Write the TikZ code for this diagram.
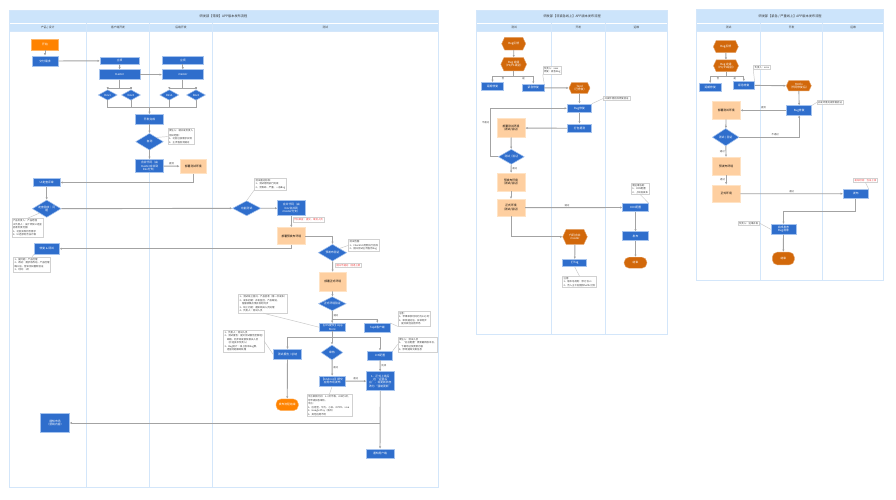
\documentclass[tikz,border=0pt]{standalone}
\usepackage{fontspec}
\setmainfont{Noto Sans CJK SC}
\usetikzlibrary{shapes.geometric,shapes.symbols,arrows.meta}

\definecolor{laneline}{HTML}{D3E6FA}
\definecolor{headfill}{HTML}{CCE4FB}
\definecolor{taskblue}{HTML}{2F6ECC}
\definecolor{taskedge}{HTML}{A5C3EE}
\definecolor{envfill}{HTML}{FECFA0}
\definecolor{envedge}{HTML}{FFE3C5}
\definecolor{startorange}{HTML}{FF8300}
\definecolor{hexorange}{HTML}{D2680A}
\definecolor{flowgray}{HTML}{A3A3A3}
\definecolor{notered}{HTML}{F03C3C}

\tikzset{
  boxfont/.style={font=\fontsize{2.8}{3.4}\selectfont},
  memofont/.style={font=\fontsize{2.4}{3.5}\selectfont},
  wh/.style 2 args={minimum width=#1pt, minimum height=#2pt},
  task/.style={rectangle, boxfont, fill=taskblue, draw=taskedge, line width=0.5pt,
    text=white, align=center, inner sep=0.5pt},
  envbox/.style={rectangle, boxfont, fill=envfill, draw=envedge, line width=0.7pt,
    align=center, inner sep=0.5pt},
  check/.style={diamond, aspect=1.7, boxfont, fill=taskblue, draw=taskedge,
    line width=0.5pt, text=white, align=center, inner sep=0pt},
  startbox/.style={rectangle, boxfont, fill=startorange, draw=startorange!60,
    text=white, inner sep=0.5pt},
  hexbox/.style={signal, signal to=east and west, signal pointer angle=130,
    boxfont, fill=hexorange, draw=hexorange!60, text=white, align=center, inner sep=0.3pt},
  endbox/.style={rectangle, rounded corners=5pt, boxfont, fill=hexorange,
    draw=hexorange!60, text=white, inner sep=0.5pt},
  memo/.style={rectangle, memofont, draw=black!18, fill=white, align=left,
    text=black!75, inner sep=1.1pt, anchor=north west},
  redmemo/.style={memo, text=notered},
  flow/.style={draw=flowgray, line width=0.9pt, -{Latex[length=2.4pt,width=2.2pt]}},
  joint/.style={draw=flowgray, line width=0.9pt},
  link/.style={draw=black!22, line width=0.45pt},
  lbl/.style={memofont, text=black!70, inner sep=0.8pt},
  lane/.style={draw=laneline, line width=0.9pt},
  headtext/.style={boxfont, text=black!75},
  titletext/.style={font=\fontsize{3.2}{3.8}\selectfont, text=black!80},
}

\begin{document}
\begin{tikzpicture}[x=1pt, y=-1pt]
\useasboundingbox (0,0) rectangle (896,500);
\fill[white] (0,0) rectangle (896,500);

% ---------- regular release ----------
\fill[headfill] (9,10) rectangle (438,31.7);
\draw[white, line width=0.8pt] (9,23.3) -- (438,23.3);
\draw[lane] (9,10) rectangle (438,487.7);
\draw[lane] (9,31.7) -- (438,31.7);
\foreach \x in {86.7,149.3,212.7} \draw[lane] (\x,23.3) -- (\x,487.7);
\node[titletext] (ltitle) at (223.5,16.7) {研发部【常规】APP版本发布流程};
\node[headtext] (lhead1) at (47.8,27.5) {产品 | 设计};
\node[headtext] (lhead2) at (118,27.5) {客户端开发};
\node[headtext] (lhead3) at (181,27.5) {后端开发};
\node[headtext] (lhead4) at (325.3,27.5) {测试};

\node[startbox, wh={27}{10.7}] (start) at (45,44.7) {开始};
\node[task, wh={26}{10.3}] (req) at (45,61) {交付需求};
\node[task, wh={39}{7.2}] (cliplan) at (119.7,60.8) {立项};
\node[task, wh={41}{9.7}] (climaster) at (119.5,74.6) {master};
\node[task, wh={41}{7.5}] (srvplan) at (182.8,60.5) {立项};
\node[task, wh={41}{9.7}] (srvmaster) at (182.8,74.6) {master};
\node[check, wh={19}{10.5}] (clidev1) at (107.7,95) {Dev1};
\node[check, wh={19}{10.5}] (clidev2) at (131,95) {Dev2};
\node[check, wh={19}{10.5}] (srvdev1) at (169.3,95) {Dev1};
\node[check, wh={19}{10.5}] (srvdev2) at (196,95) {Dev2};
\coordinate (devjoin) at (149.5,107.3);
\node[task, wh={27.6}{9.7}] (devdone) at (149.5,119.2) {开发完成};
\node[check, wh={27.7}{16.7}] (selftest) at (149.5,141.7) {自测};
\node[memo] (selfmemo) at (167.7,128.3) {责任人：端开发负责人\\[1.2pt]测试范围：\\1、功能已按需求实现\\2、主流程自测通过};
\node[task, wh={27.6}{13.4}] (mergedev) at (149.5,166) {合并代码（由\\master合并到\\Dev分支）};
\node[envbox, wh={26.7}{14}] (testenv) at (193.3,166.3) {部署测试环境};
\node[task, wh={26.7}{8.4}] (review) at (46.7,182.5) {UI走查评审};
\node[check, wh={28.7}{17.3}] (uicheck) at (46.7,208.7) {走查验收｜问\\题};
\node[memo] (uimemo) at (11.7,218.3) {产品负责人：产品经理\\UI负责人：设计师及UI走查\\验收负责范围：\\1、功能实现符合需求\\2、UI还原符合设计稿};
\node[task, wh={25}{10.7}] (fix) at (46.8,248.7) {修复 \& 调试};
\node[memo] (fixmemo) at (13.3,256.7) {1、提问题：产品经理\\2、改动：需求有改动，产品经理\\确认后，告知测试重新验证\\3、时间：1天};
\node[task, wh={28.6}{19}] (market) at (55,423) {通知市场\\（营销内容）};

\node[check, wh={28.4}{15}] (funccheck) at (246.7,208.3) {功能测试};
\node[memo] (funcmemo) at (254.3,177.7) {测试通过标准：\\1、测试用例执行完成\\2、无致命、严重、一般Bug};
\node[task, wh={27.3}{15}] (mergemaster) at (291.3,208.2) {合并代码（由\\Dev合并到\\master分支）};
\node[redmemo] (mergememo) at (292.7,217.3) {代码审查：提交，审批人员};
\node[envbox, wh={27.3}{16.6}] (preenv) at (291.3,236) {部署预发布环境};
\node[check, wh={28.4}{16.7}] (precheck) at (332.5,252.7) {预发布验证};
\node[memo] (prememo) at (348.3,239.3) {测试范围：\\1、Checklist用例执行完成\\2、回归测试主流程无Bug};
\node[redmemo] (prered) at (335,262.7) {回归不通过：回退上版};
\node[envbox, wh={26.7}{18.7}] (prodenv) at (332.7,281.7) {部署正式环境};
\node[check, wh={27.7}{14}] (prodcheck) at (332.3,303.7) {正式环境验证};
\node[memo] (prodmemo) at (238.3,294.3) {1、测试线上回归，产品验收（第一次发布）\\2、发布初期：开发监控，产品跟进，\\\quad 客服收集反馈并及时同步\\3、线上问题：通知相关人员处理\\4、负责人：测试人员};
\node[task, wh={25.7}{7.7}] (iosapp) at (332.2,327.2) {【iOS提交】App\\Store};
\node[task, wh={25.7}{9}] (tapd) at (377.3,327.8) {Tapd客户端};
\node[memo] (tapdmemo) at (397.7,311) {注意：\\1、苹果审核时间约为24小时\\2、审核通过后，安卓同步\\\quad 提交其他应用市场};
\node[task, wh={28.4}{9.7}] (report) at (287.5,354.2) {测试报告 / 总结};
\node[memo] (reportmemo) at (223.3,330) {1、负责人：测试人员\\2、测试报告：提交测试报告至群组/\\\quad 邮箱，同步研发部及相关人员\\\quad （抄送技术负责人）\\3、Bug统计：线上版本Bug数，\\\quad 遗留问题跟踪处理};
\node[check, wh={21.7}{15}] (audit) at (332,352.5) {审核};
\node[task, wh={25}{9}] (iosconf) at (380,355.5) {iOS配置};
\node[memo] (confmemo) at (397.7,336.7) {责任人：测试人员\\1、“后台配置”更新最新版本号，\\\quad 下载地址及更新内容\\2、修改通知文案信息};
\node[startbox, rounded corners=5pt, wh={22.3}{11.7}] (finish) at (287.2,404.8) {发布流程结束};
\node[task, wh={25.7}{9.7}] (android) at (332.2,381) {【Android】提交\\应用市场发布};
\node[memo] (androidmemo) at (306.7,394.3) {平台审核时间：1--3天不等，iOS约1天，\\可申请加急审核。\\平台：\\1、应用宝、华为、小米、OPPO、vivo\\2、Google Play（海外）\\3、其他应用市场};
\node[task, wh={27.3}{19}] (online) at (380.3,381.2) {1、正式上线后\\在“运营后\\台”，将更新状态\\改为“强制更新”};
\node[task, wh={28}{9.3}] (notify) at (380,453.7) {通知用户端};

\draw[flow] (start) -- (req);
\draw[flow] (req) -- (cliplan);
\draw[flow] (cliplan) -- (climaster);
\draw[flow] (srvplan) -- (srvmaster);
\draw[flow] (climaster) -- (srvmaster);
\foreach \d in {clidev1,clidev2} \draw[flow] (climaster.south) -- ++(0,8.5) -| (\d.north);
\foreach \d in {srvdev1,srvdev2} \draw[flow] (srvmaster.south) -- ++(0,8.5) -| (\d.north);
\foreach \d in {clidev1,clidev2,srvdev1,srvdev2} \draw[joint] (\d.south) |- (devjoin);
\draw[flow] (devjoin) -- (devdone);
\draw[flow] (devdone) -- (selftest);
\draw[flow] (selftest) -- (mergedev);
\draw[flow] (mergedev) -- node[lbl, above] {提测} (testenv);
\draw[flow] (testenv.south) |- (review.east);
\draw[flow] (review) -- (uicheck);
\draw[flow] (uicheck) -- (funccheck);
\draw[flow] (funccheck) -- (mergemaster);
\draw[flow] (mergemaster) -- (preenv);
\draw[flow] (preenv.south) |- (fix.east);
\draw[flow] (preenv.east) -| (precheck.north);
\draw[flow] (precheck) -- (prodenv);
\draw[flow] (prodenv) -- (prodcheck);
\draw[flow] (prodcheck) -- node[lbl, right, pos=0.35] {通过} (iosapp);
\draw[flow] (prodcheck.south) -- ++(0,8.3) -| (tapd.north);
\foreach \d in {report,audit,iosconf} \draw[flow] (iosapp.south) -- ++(0,6.5) -| (\d.north);
\draw[flow] (report) -- (finish);
\draw[flow] (audit) -- node[lbl, right] {通过} (android);
\draw[flow] (android) -- node[lbl, above] {通过} (online);
\draw[flow] (iosconf) -- node[lbl, right] {完成} (online);
\draw[flow] (online) -- (notify);
\draw[flow] (online.south |- market.east) -- (market.east);

\draw[link] (selfmemo.west) -- (selftest.north east);
\draw[link] (uimemo.north) -- (uicheck.south west);
\draw[link] (fixmemo.north) -- (fix.south west);
\draw[link] (funcmemo.south west) -- (funccheck.north);
\draw[link] (prememo.west) -- (precheck.north east);
\draw[link] (prodmemo.south) -- (iosapp.west);
\draw[link] (tapdmemo.south west) -- (tapd.north east);
\draw[link] (reportmemo.east) -- (report.west);
\draw[link] (confmemo.west) -- (iosconf.north east);
\draw[link] (androidmemo.north) -- (android.south);

% ---------- non-urgent fix ----------
\fill[headfill] (476.7,10) rectangle (667.5,31.7);
\draw[white, line width=0.8pt] (476.7,23.3) -- (667.5,23.3);
\draw[lane] (476.7,10) rectangle (667.5,334.3);
\draw[lane] (476.7,31.7) -- (667.5,31.7);
\foreach \x in {551.7,605} \draw[lane] (\x,23.3) -- (\x,334.3);
\node[titletext] (mtitle) at (572.1,16.7) {研发部【非紧急线上】APP版本发布流程};
\node[headtext] (mhead1) at (514.2,27.5) {测试};
\node[headtext] (mhead2) at (578.3,27.5) {开发};
\node[headtext] (mhead3) at (636.3,27.5) {运维};

\node[hexbox, wh={24}{12.7}] (mbug) at (513.7,43.7) {Bug反馈};
\node[hexbox, wh={22.7}{13.3}] (mgrade) at (513.7,64.3) {Bug 定级\\（P0/P1级别）};
\node[task, wh={21.6}{7.7}] (mdelay) at (492.5,86.2) {延期修复};
\node[task, wh={21.3}{7.7}] (mfix) at (533.3,87.8) {紧急修复};
\node[memo] (mfixmemo) at (542.7,66) {负责人：xxxx\\修复：紧急Bug};
\node[hexbox, wh={21}{10.7}] (mtapd) at (579.5,88) {Tapd\\（已修复）};
\node[task, wh={24.4}{8.7}] (mbugfix) at (579.5,108.3) {Bug修复};
\node[memo] (mbugmemo) at (603.3,96) {开发环境完成修复验证};
\node[task, wh={24.4}{8.7}] (mpack) at (579.5,128.3) {打包提测};
\node[envbox, wh={27.7}{18.3}] (mtestenv) at (511,128) {部署测试环境\\（测试/验证）};
\node[check, wh={26}{15}] (mtestchk) at (511.3,156.8) {测试 / 验证};
\node[envbox, wh={27.7}{17.7}] (mpreenv) at (511,182.2) {预发布环境\\（测试/验证）};
\node[envbox, wh={27.7}{16.7}] (mprodenv) at (511,207.7) {正式环境\\（测试/验证）};
\node[task, wh={25.6}{8.4}] (mcdn) at (635.5,207.5) {CDN配置};
\node[memo] (mcdnmemo) at (631,182.7) {需运维协助：\\1、CDN配置\\2、上线后发布};
\node[task, wh={25.6}{9}] (mrelease) at (635.5,236.2) {发布};
\node[endbox, wh={22.7}{11}] (mend) at (635.5,262.7) {结束};
\node[hexbox, wh={24.6}{15}] (mmerge) at (575,236.8) {代码合并\\master};
\node[task, wh={24}{7.4}] (mtag) at (574.7,263) {打Tag};
\node[memo] (mtagmemo) at (562.3,276) {注意：\\1、版本号规则：修订号+1\\2、合入主干后删除hotfix分支};

\draw[flow] (mbug) -- (mgrade);
\draw[flow] (mgrade.south) -- ++(0,5.2) -| node[lbl, pos=0.25, below] {否} (mdelay.north);
\draw[flow] (mgrade.south) -- ++(0,5.2) -| node[lbl, pos=0.25, below] {是} (mfix.north);
\draw[flow] (mfix) -- (mtapd);
\draw[flow] (mtapd) -- (mbugfix);
\draw[flow] (mbugfix) -- (mpack);
\draw[flow] (mpack) -- (mtestenv);
\draw[flow] (mtestenv) -- (mtestchk);
\draw[flow] (mtestchk.west) -- ++(-7.6,0) |- node[lbl, pos=0.35, left] {不通过} (mbugfix.west);
\draw[flow] (mtestchk) -- node[lbl, right] {通过} (mpreenv);
\draw[flow] (mpreenv) -- (mprodenv);
\draw[flow] (mprodenv) -- node[lbl, above, pos=0.43] {通过} (mcdn);
\draw[flow] (mcdn) -- (mrelease);
\draw[flow] (mrelease) -- (mend);
\draw[flow] (mprodenv.south) |- (mmerge.west);
\draw[flow] (mmerge) -- (mtag);
\draw[link] (mfixmemo.south west) -- (mfix.north east);
\draw[link] (mbugmemo.west) -- (mbugfix.north east);
\draw[link] (mcdnmemo.south) -- (mcdn.north east);
\draw[link] (mtagmemo.north) -- (mtag.south);

% ---------- urgent fix ----------
\fill[headfill] (696.7,9) rectangle (883.5,31.7);
\draw[white, line width=0.8pt] (696.7,23.3) -- (883.5,23.3);
\draw[lane] (696.7,9) rectangle (883.5,280);
\draw[lane] (696.7,31.7) -- (883.5,31.7);
\foreach \x in {760.7,822.7} \draw[lane] (\x,23.3) -- (\x,280);
\node[titletext] (rtitle) at (790.1,16.2) {研发部【紧急 / 严重线上】APP版本发布流程};
\node[headtext] (rhead1) at (728.7,27.5) {测试};
\node[headtext] (rhead2) at (791.7,27.5) {开发};
\node[headtext] (rhead3) at (853.1,27.5) {运维};

\node[hexbox, wh={25}{12}] (rbug) at (725.8,46.7) {Bug反馈};
\node[hexbox, wh={22.3}{11.7}] (rgrade) at (726,65.8) {Bug 定级\\（P0/P1级别）};
\node[task, wh={21.7}{7.7}] (rdelay) at (710.2,87.2) {延期修复};
\node[task, wh={21}{7.3}] (rfix) at (743.8,85.3) {紧急修复};
\node[memo] (rfixmemo) at (753.3,65) {负责人：xxxx};
\node[hexbox, wh={22.3}{10.3}] (rhot) at (798.8,85.8) {Hotfix\\（代码修复后）};
\node[task, wh={25}{9.3}] (rbugfix) at (799.2,110.3) {Bug修复};
\node[memo] (rbugmemo) at (816.7,100) {开发环境完成修复验证};
\node[envbox, wh={27.7}{17.3}] (rtestenv) at (726.2,110.3) {部署测试环境};
\node[check, wh={26.7}{17.4}] (rtestchk) at (725.7,137.2) {测试 / 验证};
\node[envbox, wh={27.7}{17.7}] (rpreenv) at (726.2,166.2) {预发布环境};
\node[envbox, wh={27.7}{17.7}] (rprodenv) at (726.2,193.8) {正式环境};
\node[task, wh={25}{9.3}] (rrelease) at (855.8,193.7) {发布};
\node[redmemo] (rrelmemo) at (853.3,177.7) {发布时间：当日上线};
\node[task, wh={25}{10}] (rdone) at (783.5,229.3) {完成发布\\Bug清零};
\node[memo] (rdonememo) at (737.7,220.7) {负责人：运维开发};
\node[endbox, wh={22}{12.7}] (rend) at (783.3,258.5) {结束};

\draw[flow] (rbug) -- (rgrade);
\draw[flow] (rgrade.south) -- ++(0,4.4) -| node[lbl, pos=0.25, below] {否} (rdelay.north);
\draw[flow] (rgrade.south) -- ++(0,4.4) -| node[lbl, pos=0.25, below] {是} (rfix.north);
\draw[flow] (rfix) -- (rhot);
\draw[flow] (rhot) -- (rbugfix);
\draw[flow] (rbugfix) -- node[lbl, above] {提测} (rtestenv);
\draw[flow] (rtestenv) -- (rtestchk);
\draw[flow] (rtestchk.east) -| node[lbl, above, pos=0.3] {不通过} (rbugfix.south);
\draw[flow] (rtestchk) -- node[lbl, left] {通过} (rpreenv);
\draw[flow] (rpreenv) -- node[lbl, left] {通过} (rprodenv);
\draw[flow] (rprodenv) -- node[lbl, above] {通过} (rrelease);
\draw[flow] (rrelease.south) -- ++(0,12.7) -| (rdone.north);
\draw[flow] (rdone) -- (rend);
\draw[link] (rfixmemo.south west) -- (rfix.north east);
\draw[link] (rbugmemo.west) -- (rbugfix.north east);
\draw[link] (rrelmemo.south) -- (rrelease.north east);
\draw[link] (rdonememo.east) -- (rdone.west);
\end{tikzpicture}
\end{document}
